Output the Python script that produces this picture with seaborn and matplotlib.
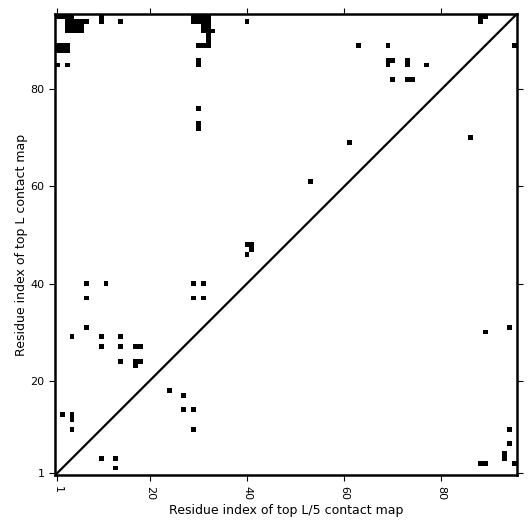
import numpy as np
import matplotlib
matplotlib.use("Agg")
import matplotlib.pyplot as plt
from matplotlib.colors import ListedColormap
import seaborn as sns

L = 95
tick_values = [1, 20, 40, 60, 80]

# top-L contacts (residue on x, residue on y), upper-left triangle
topL_x = [1, 2, 3, 4,
          3, 4, 5, 6, 3, 4, 5, 6, 3, 4, 5, 6,
          7, 10, 10, 14,
          1, 2, 3, 1, 2, 3,
          1, 3,
          29, 30, 31, 32, 29, 30, 31, 32,
          31, 32, 31, 32, 33, 32, 32, 30, 31, 32,
          30, 30, 30, 30, 30,
          40,
          40, 41, 41, 40,
          88, 89, 88,
          63, 69, 69, 70, 69, 73, 73, 77, 70, 73, 74,
          7, 11, 7, 29, 31, 29, 31,
          7, 4, 10, 14,
          10, 14, 17, 18,
          14, 17, 18, 17,
          2, 4, 4, 4]
topL_y = [95, 95, 95, 95,
          92, 92, 92, 92, 93, 93, 93, 93, 94, 94, 94, 94,
          94, 94, 95, 94,
          88, 88, 88, 89, 89, 89,
          85, 85,
          94, 94, 94, 94, 95, 95, 95, 95,
          93, 93, 92, 92, 92, 91, 90, 89, 89, 89,
          86, 85, 76, 73, 72,
          94,
          48, 48, 47, 46,
          95, 95, 94,
          89, 89, 86, 86, 85, 86, 85, 85, 82, 82, 82,
          40, 40, 37, 40, 40, 37, 37,
          31, 29, 29, 29,
          27, 27, 27, 27,
          24, 24, 24, 23,
          13, 13, 12, 10]

# top-L/5 contacts (residue on x, residue on y), lower-right triangle
topL5_x = [94, 89, 94, 94, 93, 93, 88, 89, 95, 86, 61, 53,
           24, 27, 27, 29, 29, 13, 10, 13, 95]
topL5_y = [31, 30, 10, 7, 4, 5, 3, 3, 3, 70, 69, 61,
           18, 17, 14, 14, 10, 4, 4, 2, 89]

mat = np.zeros((L, L))
for x, y in zip(topL_x, topL_y):
    mat[y - 1, x - 1] = 1
for x, y in zip(topL5_x, topL5_y):
    mat[y - 1, x - 1] = 1

fig = plt.figure(figsize=(5.31, 5.31), dpi=100)
ax = fig.add_axes([0.1036, 0.1049, 0.8697, 0.8687])
sns.heatmap(mat, cmap=ListedColormap(["white", "black"]), cbar=False, ax=ax,
            xticklabels=False, yticklabels=False, vmin=0, vmax=1)
ax.set_xlim(0, L)
ax.set_ylim(0, L)
ax.plot([0, L], [0, L], color="black", lw=1.6)

pos = [v - 0.5 for v in tick_values]
ax.set_xticks(pos)
ax.set_xticklabels([str(v) for v in tick_values], rotation=-90, fontsize=8)
ax.set_yticks(pos)
ax.set_yticklabels([str(v) for v in tick_values], rotation=0, fontsize=8)
ax.tick_params(top=True, right=True, direction="out", length=4, width=0.8)
for s in ax.spines.values():
    s.set_visible(True)
    s.set_linewidth(1.8)
    s.set_color("black")
ax.set_xlabel("Residue index of top L/5 contact map", fontsize=9, labelpad=3)
ax.set_ylabel("Residue index of top L contact map", fontsize=9, labelpad=2)

fig.savefig("out.png", dpi=100)
